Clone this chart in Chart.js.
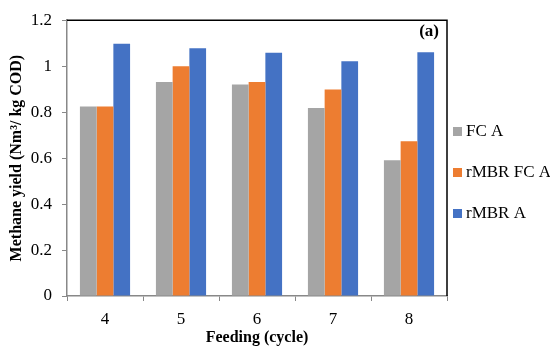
<!DOCTYPE html>
<html>
<head>
<meta charset="utf-8">
<script src="https://cdn.jsdelivr.net/npm/chart.js@4/dist/chart.umd.min.js"></script>
<style>
  html, body { margin: 0; padding: 0; background: #fff; }
  #wrap { width: 550px; height: 353px; }
</style>
</head>
<body>
<div id="wrap"><canvas id="methaneChart" width="550" height="353"></canvas></div>
<script>
const cycles = ["4", "5", "6", "7", "8"];
const fcA = [0.824, 0.931, 0.920, 0.818, 0.591];
const rmbrFcA = [0.824, 1.0, 0.931, 0.899, 0.673];
const rmbrA = [1.098, 1.078, 1.058, 1.021, 1.061];
const yTicks = [0, 0.2, 0.4, 0.6, 0.8, 1, 1.2];

const FONT = "'Liberation Serif', serif";

// right-hand legend + box lines + "(a)"
const extrasPlugin = {
  id: "extras",
  afterDraw(chart) {
    const { ctx, chartArea } = chart;
    ctx.save();

    // top and right frame lines
    ctx.strokeStyle = "#000";
    ctx.lineWidth = 1.5;
    ctx.beginPath();
    ctx.moveTo(chartArea.left, chartArea.top);
    ctx.lineTo(chartArea.right, chartArea.top);
    ctx.lineTo(chartArea.right, chartArea.bottom);
    ctx.stroke();

    ctx.font = "bold 17px " + FONT;
    ctx.fillStyle = "#000";
    ctx.textAlign = "right";
    ctx.textBaseline = "middle";
    ctx.fillText("(a)", chartArea.right - 8, 32);

    // legend
    ctx.font = "17px " + FONT;
    ctx.textAlign = "left";
    chart.data.datasets.forEach((ds, i) => {
      const y = 132 + i * 41;
      ctx.fillStyle = ds.backgroundColor;
      ctx.fillRect(453, y - 5, 9, 9);
      ctx.fillStyle = "#000";
      ctx.fillText(ds.label, 466, y);
    });
    ctx.restore();
  }
};

new Chart(document.getElementById("methaneChart"), {
  type: "bar",
  data: {
    labels: cycles,
    datasets: [
      { label: "FC A", data: fcA, backgroundColor: "#a5a5a5" },
      { label: "rMBR FC A", data: rmbrFcA, backgroundColor: "#ed7d31" },
      { label: "rMBR A", data: rmbrA, backgroundColor: "#4472c4" }
    ]
  },
  options: {
    responsive: false,
    animation: false,
    layout: { padding: { left: 0, right: 103, top: 10, bottom: 0 } },
    datasets: { bar: { categoryPercentage: 0.66, barPercentage: 1 } },
    plugins: { legend: { display: false }, tooltip: { enabled: false } },
    scales: {
      x: {
        grid: { offset: true, drawOnChartArea: false, tickLength: 5, color: "#888" },
        border: { color: "#888", width: 1.5 },
        ticks: { color: "#000", font: { family: FONT, size: 17 }, padding: 8 },
        title: {
          display: true, text: "Feeding (cycle)", color: "#000",
          font: { family: FONT, size: 16, weight: "bold" }, padding: { top: 0, bottom: 6 }
        },
        afterFit(scale) { scale.height = 57; }
      },
      y: {
        min: 0, max: 1.2,
        afterBuildTicks(scale) { scale.ticks = yTicks.map(v => ({ value: v })); },
        grid: { drawOnChartArea: false, tickLength: 5, color: "#888" },
        border: { color: "#888", width: 1.5 },
        ticks: {
          color: "#000", font: { family: FONT, size: 17 }, padding: 10,
          callback: v => String(Math.round(v * 10) / 10)
        },
        title: {
          display: true, text: "Methane yield (Nm³/ kg COD)", color: "#000",
          font: { family: FONT, size: 16, weight: "bold" }, padding: { top: 7, bottom: 0 }
        },
        afterFit(scale) { scale.width = 67; }
      }
    }
  },
  plugins: [extrasPlugin]
});
</script>
</body>
</html>
